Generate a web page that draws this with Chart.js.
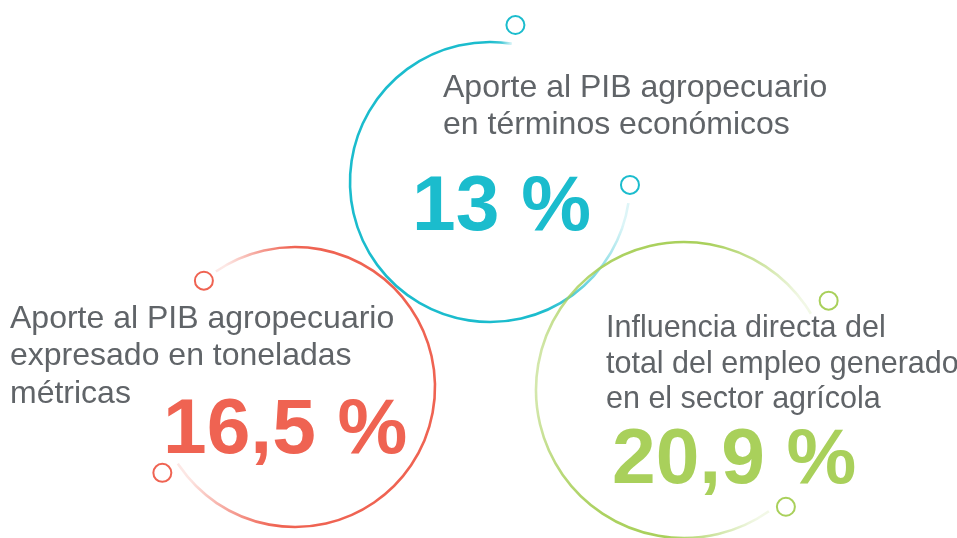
<!DOCTYPE html>
<html><head><meta charset="utf-8">
<script src="https://cdn.jsdelivr.net/npm/chart.js@4"></script>
<style>html,body{margin:0;padding:0;background:#fff}#c{display:block}</style>
</head><body><canvas id="c" width="957" height="538"></canvas>
<script>
// ---- data ----
const categories = [
  ["Aporte al PIB agropecuario", "en términos económicos"],
  ["Aporte al PIB agropecuario", "expresado en toneladas", "métricas"],
  ["Influencia directa del", "total del empleo generado", "en el sector agrícola"]
];
const values = [13, 16.5, 20.9];
const unit = "%";

// ---- styles ----
const colors = ["#1bbccd", "#ef6352", "#a9d05b"];
const textColor = "#606468";
const labelSizes = [32, 32, 30.5];
const valueFont = "bold 78.5px 'Liberation Sans', Arial, sans-serif";

// ---- layout (ring geometry in canvas units, angles in degrees, clockwise from +x) ----
const rings = [
  {cx: 490, cy: 182, r: 140, a0: 8.7, a1: 279, fin: 0.22, fout: 0.02, dip: 0, dipT: 0.5, dipW: 0.1,
   dots: [{a: 1.2, dr: 0}, {a: 279.2, dr: 19}], lx: 443, ly: [97, 134], vx: 412, vy: 230},
  {cx: 295, cy: 387, r: 140, a0: 235.6, a1: 506.8, fin: 0.12, fout: 0.18, dip: 0, dipT: 0.5, dipW: 0.1,
   dots: [{a: 229.4, dr: 0}, {a: 507.1, dr: 18}], lx: 10, ly: [328, 365, 403], vx: 163, vy: 453},
  {cx: 684, cy: 390, r: 148, a0: 55, a1: 329, fin: 0.15, fout: 0.18, dip: 0.5, dipT: 0.47, dipW: 0.14,
   dots: [{a: 48.9, dr: 7}, {a: 328.3, dr: 22}], lx: 606, ly: [337, 373, 408], vx: 612, vy: 483}
];

function hexToRgb(h) {
  const n = parseInt(h.slice(1), 16);
  return [(n >> 16) & 255, (n >> 8) & 255, n & 255];
}
function fmt(v) { return String(v).replace(".", ",") + " " + unit; }
const rad = d => d * Math.PI / 180;

// dots at arc ends, computed from ring geometry
const dotData = [], dotColors = [];
rings.forEach((g, i) => {
  g.dots.forEach(d => {
    dotData.push({x: g.cx + (g.r + d.dr) * Math.cos(rad(d.a)), y: g.cy + (g.r + d.dr) * Math.sin(rad(d.a))});
    dotColors.push(colors[i]);
  });
});

const ringPlugin = {
  id: "rings",
  beforeDatasetsDraw(chart) {
    const {ctx, scales: {x, y}} = chart;
    const k = x.getPixelForValue(1) - x.getPixelForValue(0);
    rings.forEach((g, i) => {
      const px = x.getPixelForValue(g.cx), py = y.getPixelForValue(g.cy), pr = g.r * k;
      const [r, gg, b] = hexToRgb(colors[i]);
      const span = g.a1 - g.a0;
      const grad = ctx.createConicGradient(rad(g.a0), px, py);
      const N = 60;
      for (let s = 0; s <= N; s++) {
        const t = s / N;
        let a = Math.min(1, t / g.fin, (1 - t) / g.fout);
        a *= 1 - g.dip * Math.exp(-Math.pow((t - g.dipT) / g.dipW, 2));
        a = Math.max(0.15, Math.min(1, a));
        grad.addColorStop(t * span / 360, `rgba(${r},${gg},${b},${a})`);
      }
      ctx.save();
      ctx.strokeStyle = grad;
      ctx.lineWidth = 2.6;
      ctx.beginPath();
      ctx.arc(px, py, pr, rad(g.a0), rad(g.a1));
      ctx.stroke();
      ctx.restore();
    });
  },
  afterDraw(chart) {
    const {ctx, scales: {x, y}} = chart;
    rings.forEach((g, i) => {
      ctx.save();
      ctx.textBaseline = "alphabetic";
      ctx.textAlign = "left";
      ctx.fillStyle = textColor;
      ctx.font = labelSizes[i] + "px 'Liberation Sans', Arial, sans-serif";
      categories[i].forEach((line, j) => {
        ctx.fillText(line, x.getPixelForValue(g.lx), y.getPixelForValue(g.ly[j]));
      });
      ctx.fillStyle = colors[i];
      ctx.font = valueFont;
      ctx.fillText(fmt(values[i]), x.getPixelForValue(g.vx), y.getPixelForValue(g.vy));
      ctx.restore();
    });
  }
};

new Chart(document.getElementById("c"), {
  type: "scatter",
  data: {
    datasets: [{
      data: dotData,
      pointRadius: 9,
      pointBorderWidth: 2,
      pointBackgroundColor: "#ffffff",
      pointBorderColor: dotColors,
      pointHoverRadius: 9
    }]
  },
  options: {
    responsive: false,
    animation: false,
    devicePixelRatio: 1,
    layout: {padding: 0, autoPadding: false},
    plugins: {legend: {display: false}, tooltip: {enabled: false}},
    scales: {
      x: {type: "linear", min: 0, max: 957, display: false},
      y: {type: "linear", min: 0, max: 538, reverse: true, display: false}
    }
  },
  plugins: [ringPlugin]
});
</script>
</body></html>
